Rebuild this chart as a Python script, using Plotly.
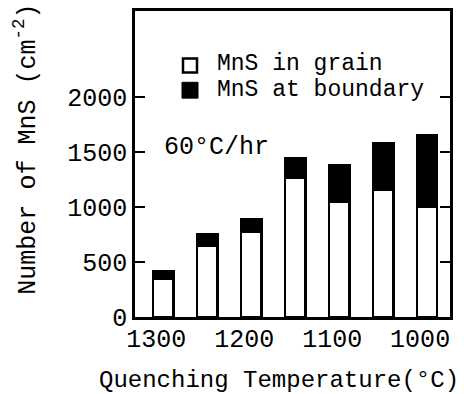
import plotly.graph_objects as go

temps = [1300, 1250, 1200, 1150, 1100, 1050, 1000]
mns_in_grain = [345, 650, 775, 1265, 1050, 1155, 1000]
mns_at_boundary = [75, 100, 110, 180, 330, 425, 655]
x_ticks = [1300, 1200, 1100, 1000]
y_ticks = [0, 500, 1000, 1500, 2000]
series_names = ["MnS in grain", "MnS at boundary"]

FONT = "Liberation Mono"
L, R, T, B = 135, 14, 8, 77
W, H = 464, 394
PW, PH = W - L - R, H - T - B

def px(x):
    return (x - L) / PW

def py(y):
    return (H - B - y) / PH

fig = go.Figure()
fig.add_trace(go.Bar(x=temps, y=mns_in_grain, name=series_names[0], width=23,
                     marker=dict(color="white", line=dict(color="black", width=2.5)),
                     showlegend=False))
fig.add_trace(go.Bar(x=temps, y=mns_at_boundary, name=series_names[1], width=23,
                     marker=dict(color="black", line=dict(color="black", width=2.5)),
                     showlegend=False))

# legend swatches
fig.add_shape(type="rect", xref="paper", yref="paper", x0=px(183), x1=px(197), y0=py(70), y1=py(56),
              fillcolor="white", line=dict(color="black", width=2.5))
fig.add_shape(type="rect", xref="paper", yref="paper", x0=px(182), x1=px(198), y0=py(96), y1=py(80),
              fillcolor="black", line=dict(color="black", width=1))

leg_font = dict(family=FONT, size=23, color="black")
ann_font = dict(family=FONT, size=25, color="black")
fig.add_annotation(text=series_names[0], xref="paper", yref="paper", x=px(215), y=py(62),
                   xanchor="left", yanchor="middle", showarrow=False, font=leg_font)
fig.add_annotation(text=series_names[1], xref="paper", yref="paper", x=px(215), y=py(88),
                   xanchor="left", yanchor="middle", showarrow=False, font=leg_font)
fig.add_annotation(text="60°C/hr", xref="paper", yref="paper", x=px(162), y=py(146),
                   xanchor="left", yanchor="middle", showarrow=False, font=ann_font)
fig.add_annotation(text="Number of MnS (cm<sup>-2</sup>)", xref="paper", yref="paper",
                   x=px(26), y=py(148), textangle=-90, xanchor="center", yanchor="middle",
                   showarrow=False, font=ann_font)
fig.add_annotation(text="Quenching Temperature(°C)", xref="paper", yref="paper",
                   x=px(279), y=py(381), xanchor="center", yanchor="middle",
                   showarrow=False, font=dict(family=FONT, size=24, color="black"))

fig.update_layout(
    width=W, height=H, barmode="stack",
    margin=dict(l=L, r=R, t=T, b=B),
    plot_bgcolor="white", paper_bgcolor="white",
    font=dict(family=FONT, size=25, color="black"),
)
fig.update_xaxes(range=[1332, 974], tickvals=x_ticks, ticktext=[str(v) for v in x_ticks],
                 showgrid=False, zeroline=False, showline=True, linecolor="black", linewidth=2.5,
                 mirror=True, ticks="", ticklabelshift=7, ticklabelstandoff=-3)
fig.update_yaxes(range=[0, 2780], tickvals=y_ticks, ticktext=[str(v) for v in y_ticks],
                 showgrid=False, zeroline=False, showline=True, linecolor="black", linewidth=2.5,
                 mirror="ticks", ticks="inside", ticklen=10, tickwidth=2, tickcolor="black")

fig.write_html("out.html")
